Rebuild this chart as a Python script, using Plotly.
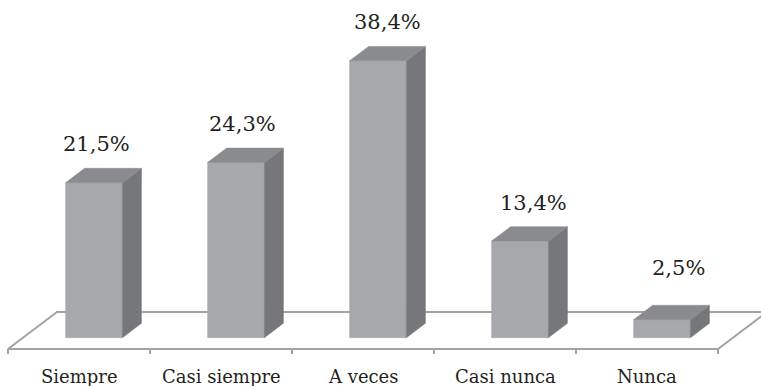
import plotly.graph_objects as go

categories = ["Siempre", "Casi siempre", "A veces", "Casi nunca", "Nunca"]
values = [21.5, 24.3, 38.4, 13.4, 2.5]
value_labels = ["21,5%", "24,3%", "38,4%", "13,4%", "2,5%"]

# pixel scale helpers (styles only)
PX_CAT = 142.0       # pixels per category
PX_VAL = 7.21        # pixels per percentage point
DX = 49 / PX_CAT     # floor depth, x shift in category units
DY = 37 / PX_VAL     # floor depth, y shift in value units
D0, D1 = 0.306, 0.694
HW = 0.20

FRONT = "#a7a8ab"
SIDE = "#76777b"
TOP = "#8a8b8e"
FLOOR = "#a3a3a3"
TXT = "#231f20"
FONT = "DejaVu Serif"


def proj(x, v, d):
    return x + d * DX, v + d * DY


fig = go.Figure()

n = len(categories)
# floor
fx, fy = [], []
for (x, d) in [(-0.5, 0), (n - 0.5, 0), (n - 0.5, 1), (-0.5, 1), (-0.5, 0)]:
    X, Y = proj(x, 0, d)
    fx.append(X)
    fy.append(Y)
fig.add_trace(go.Scatter(x=fx, y=fy, mode="lines", fill="toself", fillcolor="white",
                         line=dict(color=FLOOR, width=2), hoverinfo="skip", showlegend=False))
# ticks
tick_len = 5 / PX_VAL
for k in range(n + 1):
    fig.add_trace(go.Scatter(x=[k - 0.5, k - 0.5], y=[0, -tick_len], mode="lines",
                             line=dict(color=FLOOR, width=2), hoverinfo="skip", showlegend=False))


def poly(pts, color):
    xs = [p[0] for p in pts] + [pts[0][0]]
    ys = [p[1] for p in pts] + [pts[0][1]]
    fig.add_trace(go.Scatter(x=xs, y=ys, mode="lines", fill="toself", fillcolor=color,
                             line=dict(color=color, width=0.5), hoverinfo="skip", showlegend=False))


for i, v in enumerate(values):
    l, r = i - HW, i + HW
    front = [proj(l, 0, D0), proj(r, 0, D0), proj(r, v, D0), proj(l, v, D0)]
    side = [proj(r, 0, D0), proj(r, 0, D1), proj(r, v, D1), proj(r, v, D0)]
    top = [proj(l, v, D0), proj(r, v, D0), proj(r, v, D1), proj(l, v, D1)]
    poly(front, FRONT)
    poly(side, SIDE)
    poly(top, TOP)

annotations = []
for i, c in enumerate(categories):
    annotations.append(dict(x=i, y=-27 / PX_VAL, text=c, showarrow=False,
                            xanchor="center", yanchor="middle",
                            font=dict(family=FONT, size=18, color=TXT)))
for i, (v, t) in enumerate(zip(values, value_labels)):
    xoff = (17.5 + 3.6 * i) / PX_CAT
    ylab = max(v, 4.3) + D1 * DY + 24 / PX_VAL
    annotations.append(dict(x=i + xoff, y=ylab, text=t, showarrow=False,
                            xanchor="center", yanchor="middle",
                            font=dict(family=FONT, size=21, color=TXT)))

fig.update_layout(
    width=761, height=386,
    margin=dict(l=0, r=0, t=0, b=0),
    paper_bgcolor="white", plot_bgcolor="white",
    font=dict(family=FONT),
    xaxis=dict(range=[-79 / PX_CAT, (761 - 79) / PX_CAT], visible=False, fixedrange=True),
    yaxis=dict(range=[(349 - 386) / PX_VAL, 349 / PX_VAL], visible=False, fixedrange=True),
    annotations=annotations,
    showlegend=False,
)

fig.write_html("out.html")
